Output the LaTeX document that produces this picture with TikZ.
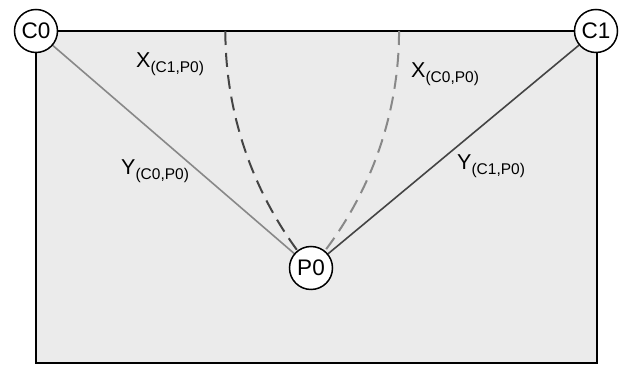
\documentclass[tikz,border=0pt]{standalone}
\usepackage{fontspec}
\setmainfont{Liberation Sans}
\usetikzlibrary{calc,backgrounds}
\definecolor{bgfill}{HTML}{EBEBEB}
\definecolor{lightln}{HTML}{888888}
\definecolor{darkln}{HTML}{444444}
\tikzset{
  station/.style={circle,draw=black,line width=1.5pt,fill=white,minimum size=43pt,inner sep=0pt,font=\fontsize{22.5}{22.5}\selectfont},
  lbl/.style={anchor=base west,inner sep=0pt,font=\fontsize{21.5}{21.5}\selectfont},
  dashln/.style={line width=2pt,dash pattern=on 14pt off 8pt},
  solidln/.style={line width=1.6pt}
}
\newcommand{\subtxt}[1]{{\fontsize{15.5}{15.5}\selectfont\raisebox{-4.5pt}{#1}}}
\begin{document}
\begin{tikzpicture}[x=1pt,y=1pt]
\useasboundingbox (0,0) rectangle (621,366);
\node[station] (C0) at (36,335) {C0};
\node[station] (C1) at (596,335) {C1};
\node[station] (P0) at (311,98) {P0};
\begin{scope}[on background layer]
  \draw[line width=1.4pt,fill=bgfill] (36,3) rectangle (597,335);
  \draw[solidln,lightln] (C0) -- (P0);
  \draw[solidln,darkln] (C1) -- (P0);
  \draw[dashln,darkln] let \p1=($(P0)-(C1)$), \n1={veclen(\x1,\y1)}, \n2={atan2(\y1,\x1)+360} in
     ($(C1)+(180:\n1)$) arc[start angle=180,end angle=\n2,radius=\n1];
  \draw[dashln,lightln] let \p1=($(P0)-(C0)$), \n1={veclen(\x1,\y1)}, \n2={atan2(\y1,\x1)} in
     ($(C0)+(0:\n1)$) arc[start angle=0,end angle=\n2,radius=\n1];
\end{scope}
\node[lbl] (xc1) at (136,298) {X\subtxt{(C1,P0)}};
\node[lbl] (xc0) at (411,288) {X\subtxt{(C0,P0)}};
\node[lbl] (yc0) at (121,191) {Y\subtxt{(C0,P0)}};
\node[lbl] (yc1) at (457,196) {Y\subtxt{(C1,P0)}};
\end{tikzpicture}
\end{document}
